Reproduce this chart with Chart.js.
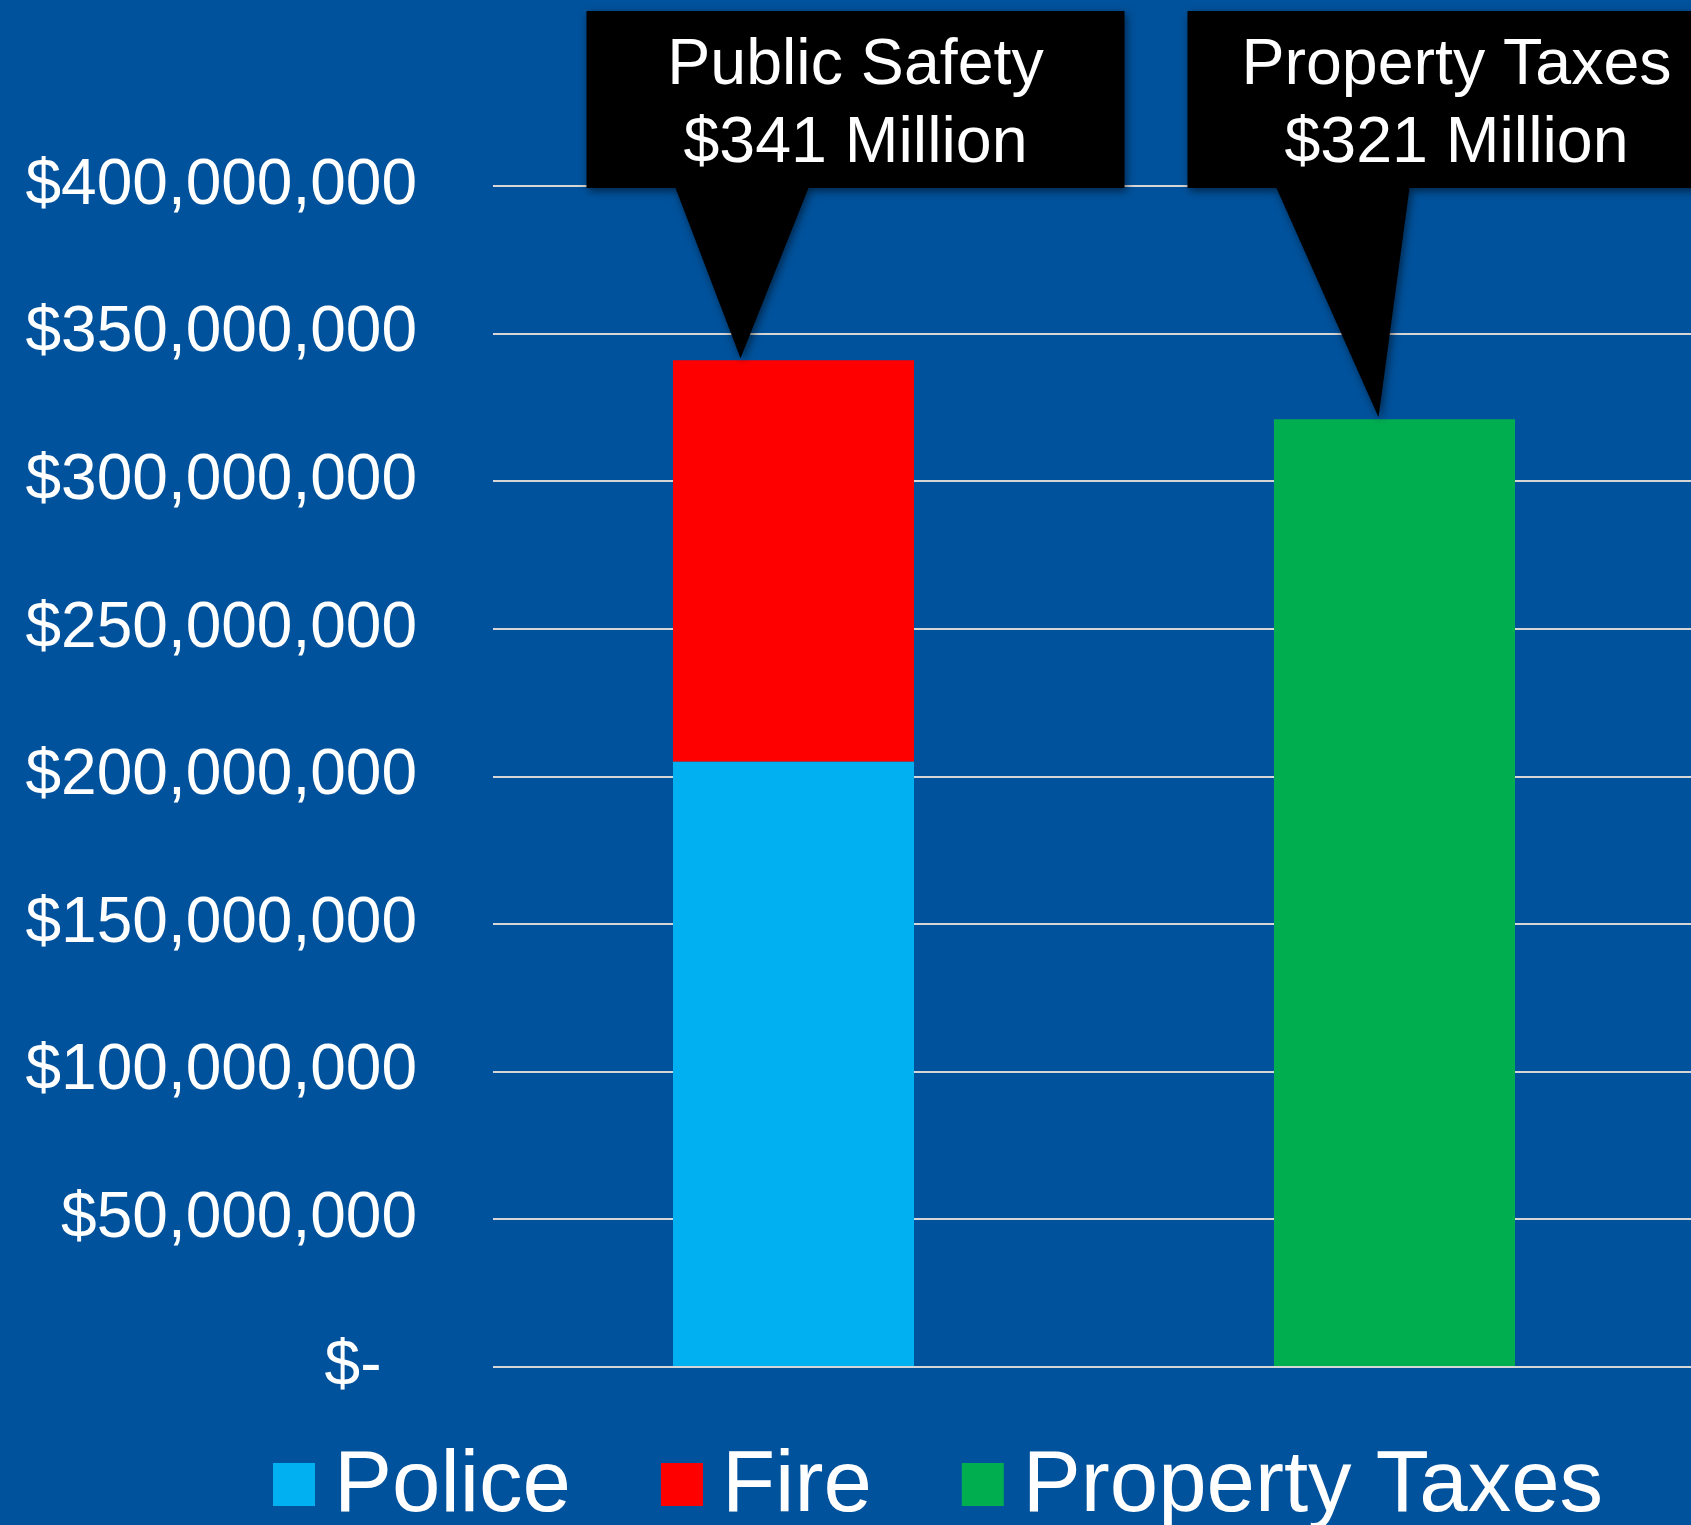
<!DOCTYPE html>
<html>
<head>
<meta charset="utf-8">
<script src="https://cdn.jsdelivr.net/npm/chart.js@4.4.1/dist/chart.umd.min.js"></script>
<style>
  html, body { margin: 0; padding: 0; background: #00529C; overflow: hidden; }
  canvas { display: block; }
</style>
</head>
<body>
<canvas id="chart" width="1695" height="1525"></canvas>
<script>
// Budget comparison data (US dollars)
const categories = ['Public Safety', 'Property Taxes'];
const policeValues = [205000000, null];
const fireValues = [136000000, null];
const propertyTaxValues = [null, 321000000];
const yTickLabels = ['$-', '$50,000,000', '$100,000,000', '$150,000,000', '$200,000,000',
  '$250,000,000', '$300,000,000', '$350,000,000', '$400,000,000'];
const calloutTitles = ['Public Safety', 'Property Taxes'];

const FONT = '"Liberation Sans", Arial, sans-serif';
const BG = '#00529C';

// Solid slide-blue backdrop
const background = {
  id: 'background',
  beforeDraw(chart) {
    const { ctx, width, height } = chart;
    ctx.save();
    ctx.fillStyle = BG;
    ctx.fillRect(0, 0, width, height);
    ctx.restore();
  }
};

// Black speech-bubble callouts pointing at each bar's top
const calloutTipDx = [-53, -16];
const callouts = {
  id: 'callouts',
  afterDatasetsDraw(chart) {
    const { ctx } = chart;
    const yScale = chart.scales.y;
    categories.forEach((cat, i) => {
      let total = 0;
      let cx = null;
      chart.data.datasets.forEach((ds, di) => {
        const v = ds.data[i];
        if (v != null) {
          total += v;
          cx = chart.getDatasetMeta(di).data[i].x;
        }
      });
      const topY = yScale.getPixelForValue(total);
      const boxCx = cx + 62;
      const left = boxCx - 269, right = boxCx + 269;
      const top = 11, bottom = 188;
      const tipX = cx + calloutTipDx[i], tipY = topY - 2;

      ctx.save();
      ctx.shadowColor = 'rgba(0,0,0,0.55)';
      ctx.shadowBlur = 8;
      ctx.shadowOffsetX = 2;
      ctx.shadowOffsetY = 3;
      ctx.fillStyle = '#000';
      ctx.beginPath();
      ctx.moveTo(left, top);
      ctx.lineTo(right, top);
      ctx.lineTo(right, bottom);
      ctx.lineTo(cx + 15, bottom);
      ctx.lineTo(tipX, tipY);
      ctx.lineTo(cx - 118, bottom);
      ctx.lineTo(left, bottom);
      ctx.closePath();
      ctx.fill();
      ctx.restore();

      ctx.save();
      ctx.fillStyle = '#FFFFFF';
      ctx.font = '64.5px ' + FONT;
      ctx.textAlign = 'center';
      ctx.textBaseline = 'alphabetic';
      ctx.fillText(calloutTitles[i], boxCx, top + 73);
      ctx.fillText('$' + Math.round(total / 1e6) + ' Million', boxCx, top + 151);
      ctx.restore();
    });
  }
};

// Square-swatch legend along the bottom edge
const bottomLegend = {
  id: 'bottomLegend',
  afterDraw(chart) {
    const { ctx } = chart;
    ctx.save();
    ctx.font = '87px ' + FONT;
    ctx.textAlign = 'left';
    ctx.textBaseline = 'alphabetic';
    let x = 273;
    chart.data.datasets.forEach(ds => {
      ctx.fillStyle = ds.backgroundColor;
      ctx.fillRect(x, 1463, 42, 43);
      ctx.fillStyle = '#FFFFFF';
      ctx.fillText(ds.label, x + 61, 1511);
      x += 61 + ctx.measureText(ds.label).width + 90;
    });
    ctx.restore();
  }
};

new Chart(document.getElementById('chart'), {
  type: 'bar',
  data: {
    labels: categories,
    datasets: [
      { label: 'Police', data: policeValues, backgroundColor: '#00B0F0', borderWidth: 0 },
      { label: 'Fire', data: fireValues, backgroundColor: '#FF0000', borderWidth: 0 },
      { label: 'Property Taxes', data: propertyTaxValues, backgroundColor: '#00AE50', borderWidth: 0 }
    ]
  },
  options: {
    responsive: false,
    animation: false,
    layout: { padding: { top: 186, bottom: 158, left: 0, right: 0 } },
    datasets: { bar: { categoryPercentage: 1.0, barPercentage: 0.401 } },
    plugins: {
      legend: { display: false },
      tooltip: { enabled: false }
    },
    scales: {
      x: {
        stacked: true,
        display: false
      },
      y: {
        stacked: true,
        min: 0,
        max: 400000000,
        border: { display: false },
        grid: { color: '#D6D6D6', lineWidth: 2, drawTicks: false },
        ticks: {
          stepSize: 50000000,
          padding: 76,
          color: '#FFFFFF',
          font: { family: FONT, size: 64 },
          callback: (v, i) => yTickLabels[i] + (v === 0 ? '  ' : '')
        },
        afterFit: (scale) => { scale.width = 493; }
      }
    }
  },
  plugins: [background, callouts, bottomLegend]
});
</script>
</body>
</html>
